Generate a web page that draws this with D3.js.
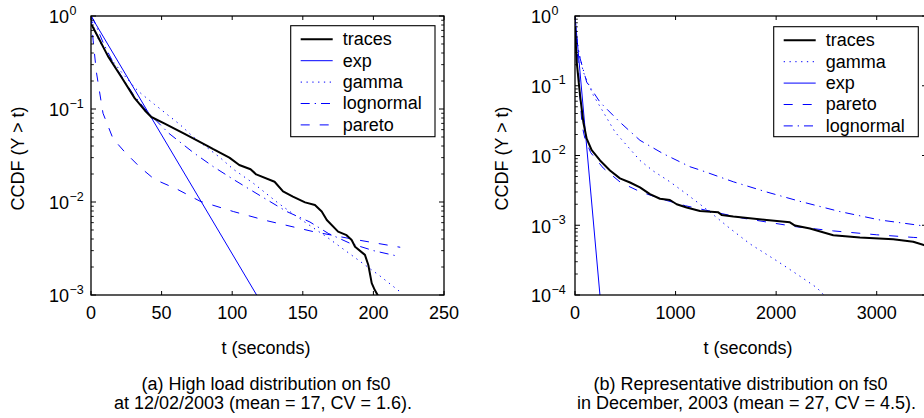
<!DOCTYPE html>
<html lang="en">
<head>
<meta charset="UTF-8"/>
<title>CCDF fits on fs0</title>
<script src="https://d3js.org/d3.v7.min.js"></script>
<style>
  * { margin: 0; padding: 0; }
  body { background: #fff; width: 924px; height: 418px; overflow: hidden; }
  svg { display: block; font-family: 'Liberation Sans', Arial, sans-serif; }
</style>
</head>
<body>
<svg id="chart" width="924" height="418"></svg>
<script>
// ---- panel (a): high load, 12/02/2003 ----
const aXTicks = [0, 50, 100, 150, 200, 250];
const aYExps = [-3, -2, -1, 0];
const aTraces = [[0,0.8],[0.7,0.79],[5,0.594],[12,0.37],[21.5,0.221],[30.9,0.131],[38,0.097],[42.7,0.082],
  [52.2,0.0695],[66.3,0.054],[81.7,0.0407],[86.6,0.037],[98,0.030],[105,0.025],[113,0.0225],[117,0.0198],
  [130,0.0165],[136,0.013],[143,0.0114],[151.6,0.0099],[158.6,0.0093],[163.4,0.0079],[167,0.0064],
  [175,0.0048],[181,0.0044],[184.6,0.0039],[187,0.0033],[194,0.0027],[196.4,0.0021],[198.8,0.00134],
  [201,0.00113],[203,0.001],[205,0.0008]];
const aExp = [[0,1],[117.3,0.001]];
const aGamma = [[0,1],[2.6,0.7],[6,0.53],[12,0.38],[21.5,0.25],[30.9,0.17],[35.6,0.146],[45,0.112],
  [54.5,0.086],[63,0.068],[72.5,0.05],[81.7,0.039],[91.4,0.03],[100.8,0.0225],[115,0.0159],[132.7,0.0097],
  [148,0.0066],[167,0.0042],[185.8,0.0026],[204.7,0.0016],[220,0.00105]];
const aLognormal = [[0,1],[2,0.9],[5,0.7],[9,0.5],[17,0.29],[30,0.143],[40,0.093],[55,0.055],[72.5,0.034],
  [86.6,0.024],[100.8,0.0175],[121,0.0114],[138.6,0.0079],[155,0.0061],[168,0.0046],[183.4,0.0036],
  [200,0.003],[218,0.0026]];
const aPareto = [[0,1],[1.5,0.55],[3.8,0.25],[8.5,0.09],[15.6,0.048],[23.9,0.0345],[34.5,0.0238],[45,0.0175],
  [60.7,0.0138],[77.2,0.0102],[100.8,0.0079],[124.4,0.0063],[157.5,0.0048],[185,0.004],[219,0.00326]];

// ---- panel (b): representative, December 2003 ----
const bXTicks = [0, 1000, 2000, 3000];
const bYExps = [-4, -3, -2, -1, 0];
const bTraces = [[0,0.7],[17,0.22],[50,0.073],[83,0.03],[116,0.0174],[166,0.0119],[249,0.0085],[348,0.0061],
  [447,0.0047],[547,0.0041],[646,0.0035],[745,0.0028],[845,0.0024],[944,0.0023],[1011,0.002],[1110,0.0018],
  [1243,0.0016],[1425,0.00153],[1458,0.0014],[1574,0.00133],[1905,0.00119],[2137,0.0011],[2187,0.00099],
  [2336,0.0009],[2568,0.00072],[2833,0.00067],[3164,0.00063],[3363,0.00058],[3469,0.00052],[3500,0.0005]];
const bGamma = [[0,1],[15,0.5],[40,0.3],[83,0.157],[182,0.073],[281,0.042],[398,0.0217],[514,0.014],
  [646,0.0085],[778,0.006],[944,0.0042],[1110,0.0028],[1243,0.002],[1342,0.00155],[1441,0.00118],
  [1541,0.0009],[1740,0.00054],[2005,0.00031],[2204,0.0002],[2402,0.000128],[2475,0.0001],[2550,0.000085]];
const bExp = [[0,1],[248,0.0001]];
const bPareto = [[0,1],[15,0.4],[33,0.2],[50,0.07],[70,0.027],[99,0.0174],[156,0.011],[281,0.0066],
  [454,0.0041],[653,0.003],[895,0.0023],[1100,0.0019],[1673,0.00126],[2204,0.00095],[2568,0.00083],
  [3000,0.00073],[3363,0.00067],[3500,0.00065]];
const bLognormal = [[0,1],[10,0.6],[33,0.305],[116,0.113],[249,0.058],[447,0.03],[646,0.0165],[878,0.0106],
  [1143,0.0069],[1243,0.0062],[1574,0.0042],[1905,0.003],[2237,0.0022],[2634,0.00157],[3032,0.00119],
  [3463,0.00098],[3500,0.00096]];

const BLUE = '#0000ff';
const styles = {
  traces:    { color: '#000', width: 2, dash: null },
  exp:       { color: BLUE, width: 1, dash: null },
  gamma:     { color: BLUE, width: 1, dash: '1.3,4.5' },
  lognormal: { color: BLUE, width: 1, dash: '9,5,1.3,5' },
  pareto:    { color: BLUE, width: 1, dash: '9,10' }
};

const svg = d3.select('#chart');

function drawPanel(p) {
  const g = svg.append('g');
  const x = d3.scaleLinear().domain(p.xDomain).range([p.left, p.right]);
  const y = d3.scaleLog().domain(p.yDomain).range([p.bottom, p.top]);

  const clipId = 'clip-' + p.id;
  svg.append('clipPath').attr('id', clipId).append('rect')
    .attr('x', p.left).attr('y', p.top)
    .attr('width', p.right - p.left).attr('height', p.bottom - p.top);

  const line = d3.line().x(d => x(d[0])).y(d => y(d[1]));
  const plot = g.append('g').attr('clip-path', `url(#${clipId})`);
  // draw fits first, traces on top
  const order = p.series.slice().sort((a, b) => (a.name === 'traces') - (b.name === 'traces'));
  order.forEach(s => {
    const st = styles[s.name];
    plot.append('path').datum(s.data)
      .attr('d', line)
      .attr('fill', 'none')
      .attr('stroke', st.color)
      .attr('stroke-width', st.width)
      .attr('stroke-dasharray', st.dash)
      .attr('stroke-linejoin', 'round');
  });

  // axes box
  g.append('rect')
    .attr('x', p.left).attr('y', p.top)
    .attr('width', p.right - p.left).attr('height', p.bottom - p.top)
    .attr('fill', 'none').attr('stroke', '#000').attr('stroke-width', 1.3);

  // x ticks (inward, bottom and top)
  p.xTicks.forEach(t => {
    const xx = x(t);
    g.append('line').attr('x1', xx).attr('x2', xx).attr('y1', p.bottom).attr('y2', p.bottom - 4)
      .attr('stroke', '#000');
    g.append('line').attr('x1', xx).attr('x2', xx).attr('y1', p.top).attr('y2', p.top + 4)
      .attr('stroke', '#000');
    g.append('text').attr('x', xx).attr('y', p.bottom + 23.5)
      .attr('text-anchor', 'middle').attr('font-size', 18).text(t);
  });

  // y ticks: majors with labels 10^e, minors 2..9
  p.yExps.forEach(e => {
    const v = Math.pow(10, e);
    const yy = y(v);
    g.append('line').attr('x1', p.left).attr('x2', p.left + 5).attr('y1', yy).attr('y2', yy).attr('stroke', '#000');
    g.append('line').attr('x1', p.right).attr('x2', p.right - 5).attr('y1', yy).attr('y2', yy).attr('stroke', '#000');
    const bx = p.left - p.labelGap;
    g.append('text').attr('x', bx).attr('y', yy + 7.4)
      .attr('text-anchor', 'end').attr('font-size', 18).text('10');
    g.append('text').attr('x', bx + 0.5).attr('y', yy - 1.5)
      .attr('text-anchor', 'start').attr('font-size', 12.5)
      .text(e < 0 ? '\u2212' + (-e) : String(e));
    if (e < 0) {
      for (let k = 2; k <= 9; k++) {
        const ym = y(k * v);
        g.append('line').attr('x1', p.left).attr('x2', p.left + 2.8).attr('y1', ym).attr('y2', ym)
          .attr('stroke', '#000').attr('stroke-width', 0.9);
        g.append('line').attr('x1', p.right).attr('x2', p.right - 2.8).attr('y1', ym).attr('y2', ym)
          .attr('stroke', '#000').attr('stroke-width', 0.9);
      }
    }
  });

  // axis titles
  g.append('text')
    .attr('transform', `translate(${p.yLabelX},${(p.top + p.bottom) / 2 + 3}) rotate(-90)`)
    .attr('text-anchor', 'middle').attr('font-size', 18).attr('dy', '0.35em')
    .text('CCDF (Y > t)');
  g.append('text').attr('x', p.xLabelX).attr('y', 354)
    .attr('text-anchor', 'middle').attr('font-size', 18).text('t (seconds)');

  // caption
  p.caption.forEach((c, i) => {
    g.append('text').attr('x', c.x).attr('y', 389.5 + i * 19)
      .attr('text-anchor', 'middle').attr('font-size', 18).text(c.text);
  });

  // legend
  const L = p.legend;
  g.append('rect').attr('x', L.x).attr('y', L.y).attr('width', L.w).attr('height', L.h)
    .attr('fill', '#fff').attr('stroke', '#000').attr('stroke-width', 1.1);
  p.series.forEach((s, i) => {
    const st = styles[s.name];
    const cy = L.y + 13.6 + i * 21.4;
    g.append('line').attr('x1', L.x + 10).attr('x2', L.x + 42).attr('y1', cy).attr('y2', cy)
      .attr('stroke', st.color).attr('stroke-width', st.width).attr('stroke-dasharray', st.dash);
    g.append('text').attr('x', L.x + 52).attr('y', cy + 5.8)
      .attr('font-size', 18).text(s.name);
  });
}

drawPanel({
  id: 'a', left: 91, right: 444, top: 16, bottom: 295,
  xDomain: [0, 250], yDomain: [1e-3, 1], xTicks: aXTicks, yExps: aYExps,
  labelGap: 22, yLabelX: 18, xLabelX: 266,
  series: [
    { name: 'traces', data: aTraces },
    { name: 'exp', data: aExp },
    { name: 'gamma', data: aGamma },
    { name: 'lognormal', data: aLognormal },
    { name: 'pareto', data: aPareto }
  ],
  legend: { x: 290.7, y: 25.7, w: 144.3, h: 111 },
  caption: [
    { x: 266, text: '(a) High load distribution on fs0' },
    { x: 263, text: 'at 12/02/2003 (mean = 17, CV = 1.6).' }
  ]
});

drawPanel({
  id: 'b', left: 575, right: 927, top: 16, bottom: 295,
  xDomain: [0, 3500], yDomain: [1e-4, 1], xTicks: bXTicks, yExps: bYExps,
  labelGap: 24, yLabelX: 502, xLabelX: 748,
  series: [
    { name: 'traces', data: bTraces },
    { name: 'gamma', data: bGamma },
    { name: 'exp', data: bExp },
    { name: 'pareto', data: bPareto },
    { name: 'lognormal', data: bLognormal }
  ],
  legend: { x: 773.7, y: 26.7, w: 144.6, h: 110 },
  caption: [
    { x: 740.5, text: '(b) Representative distribution on fs0' },
    { x: 746.5, text: 'in December, 2003 (mean = 27, CV = 4.5).' }
  ]
});
</script>
</body>
</html>
